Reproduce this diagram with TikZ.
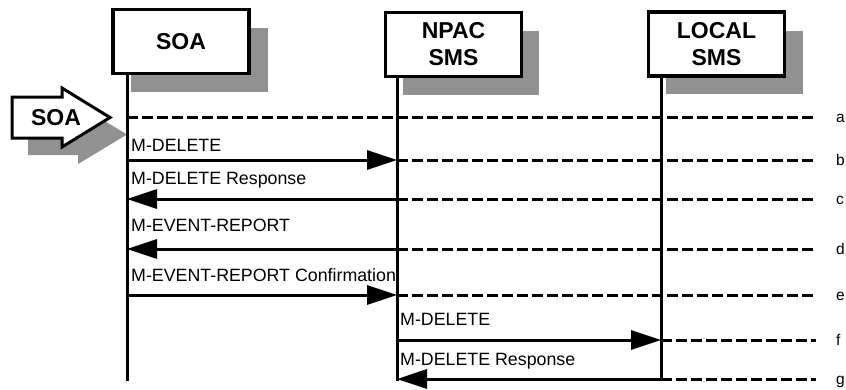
\documentclass[tikz,border=0pt]{standalone}
\usepackage{fontspec}
\setmainfont{Liberation Sans}
\usetikzlibrary{arrows.meta,calc}
\definecolor{shadowgray}{RGB}{145,145,145}
\tikzset{
  hdbox/.style={draw=black, line width=3.2pt, fill=white, minimum width=136pt, minimum height=64pt, inner sep=0pt, align=center, font=\fontsize{23}{27}\selectfont\bfseries},
  life/.style={line width=3pt},
  msg/.style={line width=3pt, -{Triangle[length=30pt,width=19pt]}},
  dline/.style={line width=3pt, dash pattern=on 10.5pt off 4.5pt},
  msgtxt/.style={anchor=base west, inner sep=0pt, font=\fontsize{17.8}{20}\selectfont},
  tagtxt/.style={anchor=base west, inner sep=0pt, font=\fontsize{15.5}{17}\selectfont},
}
\begin{document}
\begin{tikzpicture}[x=1pt,y=-1pt]
\useasboundingbox (0,0) rectangle (846,389);
% box shadows
\fill[shadowgray] (131,28) rectangle (268,92);
\fill[shadowgray] (403,31) rectangle (539,95);
\fill[shadowgray] (666,31) rectangle (803,94);
% SOA arrow shadow
\fill[shadowgray] (28,114) -- (78,114) -- (78,105) -- (127,134.5) -- (78,164) -- (78,155) -- (28,155) -- cycle;
% boxes
\node[hdbox] (soa) at (181,41.5) {SOA};
\node[hdbox] (npac) at (453.5,44.5) {NPAC\\SMS};
\node[hdbox] (local) at (716.5,44) {LOCAL\\SMS};
% SOA entry arrow
\draw[line width=3pt, fill=white, line join=miter] (12,97) -- (62,97) -- (62,88) -- (110,117.5) -- (62,147) -- (62,138) -- (12,138) -- cycle;
\node[font=\fontsize{23}{27}\selectfont\bfseries, inner sep=0pt] (soaarrow) at (56,118) {SOA};
% lifeline coordinates
\coordinate (Stop) at (127,73.5);
\coordinate (Ntop) at (397,77);
\coordinate (Ltop) at (661,76);
\coordinate (Sbot) at (127,381);
\coordinate (Nbot) at (397,381);
\coordinate (Lbot) at (661,381);
\draw[life] (Stop) -- (Sbot);
\draw[life] (Ntop) -- (Nbot);
\draw[life] (Ltop) -- (Lbot);
% message coordinates
\foreach \n/\y in {a/117,b/160,c/199,d/249,e/295,f/340,g/379}{
  \coordinate (S\n) at (127,\y);
  \coordinate (N\n) at (397,\y);
  \coordinate (L\n) at (661,\y);
  \coordinate (E\n) at (816,\y);
  \node[tagtxt] (t\n) at (836,\y+5) {\n};
}
% dashed lines
\draw[dline] (Sa) -- (Ea);
\draw[dline] (Nb) -- (Eb);
\draw[dline] (Nc) -- (Ec);
\draw[dline] (Nd) -- (Ed);
\draw[dline] (Ne) -- (Ee);
\draw[dline] (Lf) -- (Ef);
\draw[dline] (Lg) -- (Eg);
% messages
\draw[msg] (Sb) -- (Nb);
\draw[msg] (Nc) -- (Sc);
\draw[msg] (Nd) -- (Sd);
\draw[msg] (Se) -- (Ne);
\draw[msg] (Nf) -- (Lf);
\draw[msg] (Lg) -- (Ng);
% message labels
\node[msgtxt] (m1) at (131,151) {M-DELETE};
\node[msgtxt] (m2) at (131,184) {M-DELETE Response};
\node[msgtxt] (m3) at (131,231) {M-EVENT-REPORT};
\node[msgtxt] (m4) at (131,281) {M-EVENT-REPORT Confirmation};
\node[msgtxt] (m5) at (400,325) {M-DELETE};
\node[msgtxt] (m6) at (400,365) {M-DELETE Response};
\end{tikzpicture}
\end{document}
